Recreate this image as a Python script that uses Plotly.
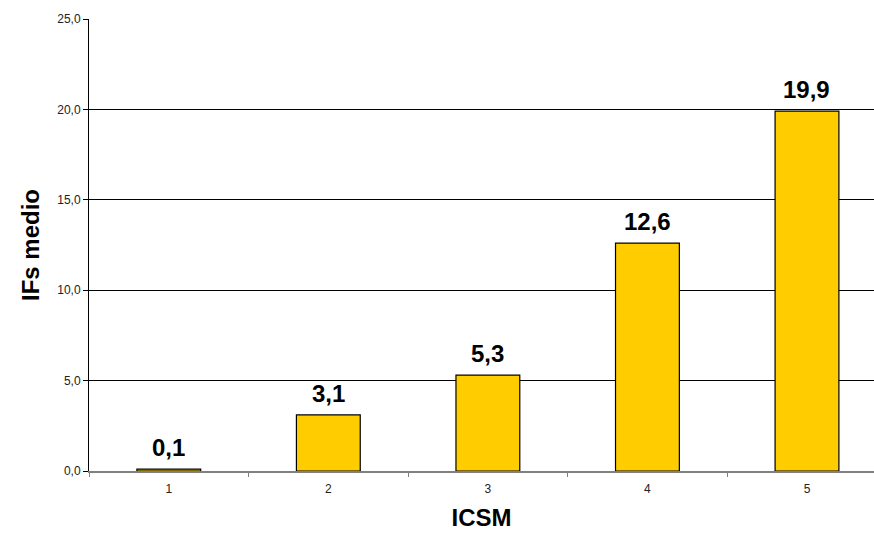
import plotly.graph_objects as go

categories = ["1", "2", "3", "4", "5"]
values = [0.1, 3.1, 5.3, 12.6, 19.9]
labels = ["0,1", "3,1", "5,3", "12,6", "19,9"]
y_ticks = [0, 5, 10, 15, 20, 25]

fig = go.Figure()
fig.add_trace(go.Bar(
    x=categories, y=values, width=0.40,
    marker=dict(color="#FFCC00", line=dict(color="#000000", width=1.2)),
    hoverinfo="skip",
))
for i, (v, t) in enumerate(zip(values, labels)):
    fig.add_annotation(x=i, y=v, text="<b>%s</b>" % t, showarrow=False,
                       yanchor="bottom", yshift=6,
                       font=dict(family="Liberation Sans, Arial", size=24, color="#000000"))

fig.update_layout(
    width=874, height=533,
    margin=dict(l=89, r=0, t=19, b=62),
    paper_bgcolor="white", plot_bgcolor="white",
    separators=",.",
    showlegend=False,
    font=dict(family="Liberation Sans, Arial", color="#000000"),
    xaxis=dict(
        type="category", range=[-0.5, 4.42],
        tickson="boundaries", ticks="outside", ticklen=4, tickcolor="#808080",
        showline=True, linecolor="#808080", linewidth=1.5,
        showgrid=False, tickfont=dict(size=12, color="#222222"),
        ticklabelstandoff=6,
        title=dict(text="<b>ICSM</b>", font=dict(size=24), standoff=14),
    ),
    yaxis=dict(
        range=[0, 25], tickvals=y_ticks, tickformat=".1f",
        ticks="outside", ticklen=5, tickcolor="#000000",
        showline=True, linecolor="#000000", linewidth=1,
        showgrid=True, gridcolor="#000000", gridwidth=1,
        zeroline=False, tickfont=dict(size=12, color="#222222"),
        title=dict(text="<b>IFs medio</b>", font=dict(size=24), standoff=10),
    ),
)
fig.write_html("out.html")
